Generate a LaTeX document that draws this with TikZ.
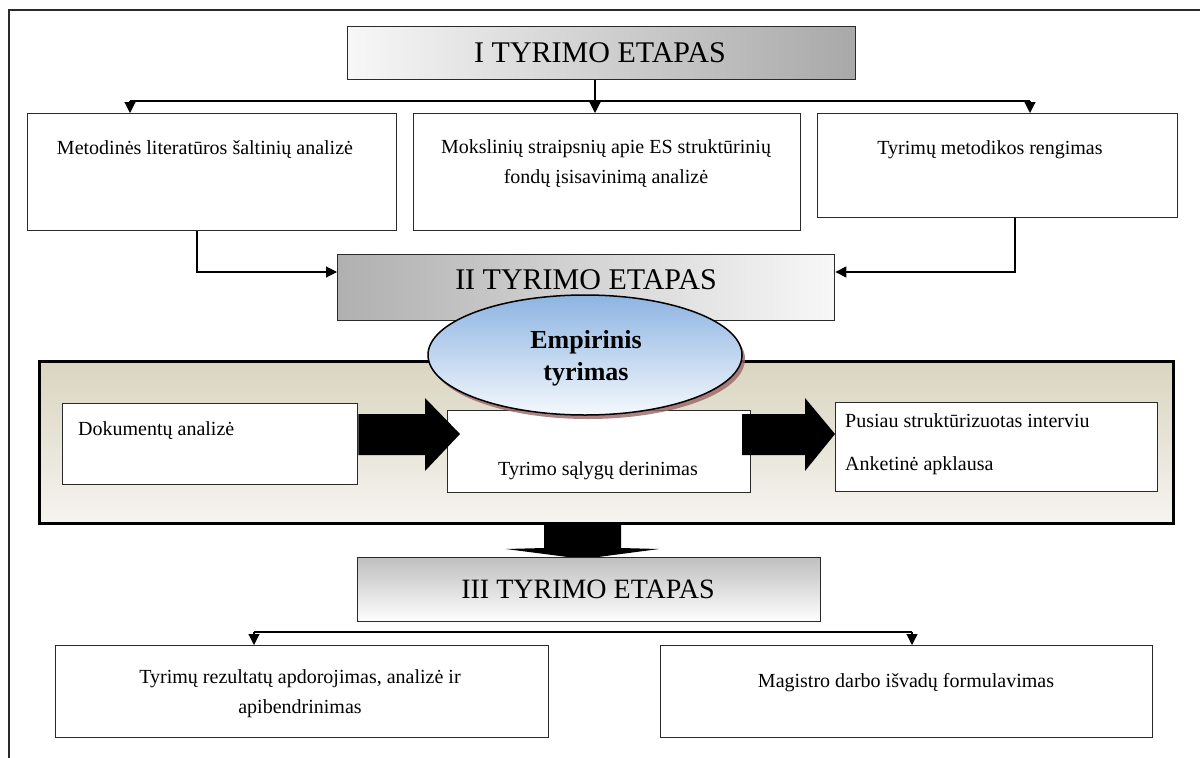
\documentclass[tikz,border=0pt]{standalone}
\usepackage{fontspec}
\setmainfont{Liberation Serif}
\usetikzlibrary{arrows.meta,calc}
\definecolor{frame}{HTML}{2A2A2A}
\definecolor{beigetop}{HTML}{DAD5C0}
\definecolor{beigebot}{HTML}{F5F4F0}
\definecolor{bluetop}{HTML}{8DB4E2}
\definecolor{bluebot}{HTML}{F4F8FD}
\definecolor{shadowred}{HTML}{9A6464}
\tikzset{
  box/.style={draw=frame, line width=1.4pt, fill=white, anchor=north west, inner sep=0pt},
  body/.style={font=\fontsize{20}{30}\selectfont, inner sep=0pt},
  hdr/.style={font=\fontsize{30}{34}\selectfont, inner sep=0pt},
  line/.style={draw=black, line width=1.1pt},
  arr/.style={line, -{Triangle[width=11pt,length=11pt]}},
  blockarrow/.style={fill=black}
}
\begin{document}
\begin{tikzpicture}[x=1pt,y=-1pt]
\useasboundingbox (0,0) rectangle (1200,758);
\fill[white] (0,0) rectangle (1200,758);
% outer frame
\draw[frame, line width=1.6pt] (9,758) -- (9,10) -- (1200,10);

% stage I
\node[box, minimum width=508pt, minimum height=53pt, left color=gray!6, right color=gray!68] (hI) at (347,26) {};
\node[hdr] (tI) at (600,53) {I TYRIMO ETAPAS};

\node[box, minimum width=369pt, minimum height=117pt] (b1) at (27,113) {};
\node[box, minimum width=387pt, minimum height=117pt] (b2) at (413,113) {};
\node[box, minimum width=360pt, minimum height=104pt] (b3) at (817,113) {};
\node[body] (t1) at (205,150) {Metodinės literatūros šaltinių analizė};
\node[body, align=center] (t2) at (606,164) {Mokslinių straipsnių apie ES struktūrinių\\fondų įsisavinimą analizė};
\node[body] (t3) at (990,150) {Tyrimų metodikos rengimas};

\coordinate (j0) at (595,101);
\coordinate (jl) at (130,101);
\coordinate (jr) at (1030,101);
\draw[line] (hI.south -| j0) -- (j0);
\draw[line] (jl) -- (jr);
\draw[arr] (jl) -- (jl |- b1.north);
\draw[arr] (j0) -- (j0 |- b2.north);
\draw[arr] (jr) -- (jr |- b3.north);

% stage II
\node[box, minimum width=497pt, minimum height=66pt, left color=gray!62, right color=gray!6] (hII) at (337,254) {};
\node[hdr] (tII) at (586,280) {II TYRIMO ETAPAS};
\coordinate (k1) at (197,272);
\coordinate (k3) at (1015,272);
\draw[arr] (k1 |- b1.south) -- (k1) -- (hII.west |- k1);
\draw[arr] (k3 |- b3.south) -- (k3) -- (hII.east |- k3);

% big down arrow (behind panel)
\fill[blockarrow] (544,500) -- (621,500) -- (621,548) -- (659,549) -- (583,559) -- (506,549) -- (544,548) -- cycle;

% panel
\node[box, draw=black, line width=3pt, minimum width=1134pt, minimum height=162pt, top color=beigetop, bottom color=beigebot] (panel) at (38,360) {};

\node[box, minimum width=295pt, minimum height=81pt] (bd) at (62,403) {};
\node[box, minimum width=303pt, minimum height=82pt] (bt) at (447,410) {};
\node[box, minimum width=322pt, minimum height=89pt] (bp) at (835,402) {};
\node[body, anchor=west] (td) at (78,431) {Dokumentų analizė};
\node[body] (tt) at (598,471) {Tyrimo sąlygų derinimas};
\node[body, anchor=west] (tp1) at (845,421) {Pusiau struktūrizuotas interviu};
\node[body, anchor=west] (tp2) at (845,466) {Anketinė apklausa};

% block arrows
\fill[blockarrow] (bd.east |- 0,414) -- (425,414) -- (425,398) -- (460,434) -- (425,471) -- (425,455) -- (bd.east |- 0,455) -- cycle;
\fill[blockarrow] (742,414) -- (805,414) -- (805,398) -- (bp.west |- 0,434) -- (805,471) -- (805,455) -- (742,455) -- cycle;

% ellipse
\fill[shadowred, opacity=0.8] (588,359) ellipse [x radius=157pt, y radius=60pt];
\shade[top color=bluetop, bottom color=bluebot, draw=black, line width=1.5pt] (585,355) ellipse [x radius=157pt, y radius=60pt];
\node[font=\fontsize{26}{32}\selectfont\bfseries, align=center, inner sep=0pt] (te) at (586,358) {Empirinis\\tyrimas};

% stage III
\node[box, minimum width=463pt, minimum height=64pt, top color=gray!50, bottom color=white] (hIII) at (357,557) {};
\node[hdr, font=\fontsize{28}{32}\selectfont] (tIII) at (588,589) {III TYRIMO ETAPAS};

\node[box, minimum width=493pt, minimum height=92pt] (c1) at (55,645) {};
\node[box, minimum width=492pt, minimum height=92pt] (c2) at (660,645) {};
\node[body, align=center] (tc1) at (300,694) {Tyrimų rezultatų apdorojimas, analizė ir\\apibendrinimas};
\node[body] (tc2) at (906,683) {Magistro darbo išvadų formulavimas};

\coordinate (ml) at (254,632);
\coordinate (mr) at (912,632);
\draw[line] (ml) -- (mr);
\draw[arr] (ml) -- (ml |- c1.north);
\draw[arr] (mr) -- (mr |- c2.north);
\end{tikzpicture}
\end{document}
